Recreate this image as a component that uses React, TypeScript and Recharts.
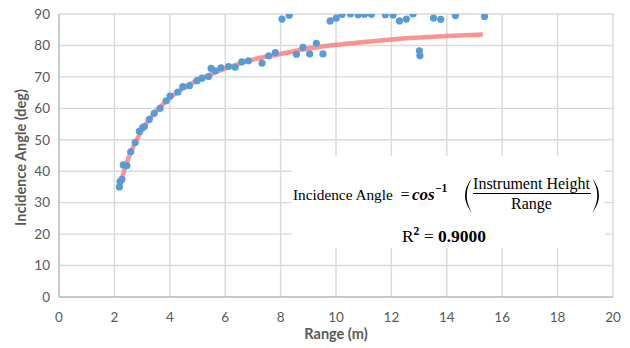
import React from 'react';
import { ComposedChart, Scatter, Line, XAxis, YAxis, CartesianGrid } from 'recharts';

// Measured points: range (m) and incidence angle (deg)
const rangeValues = [
  2.18, 2.2, 2.27, 2.32, 2.45, 2.59, 2.75, 2.9, 3.02, 3.08, 3.26, 3.44, 3.65, 3.87, 4.01, 4.29,
  4.47, 4.71, 4.98, 5.16, 5.4, 5.49, 5.64, 5.85, 6.12, 6.36, 6.6, 6.84, 7.33, 7.57, 7.81, 8.05,
  8.31, 8.57, 8.81, 9.05, 9.29, 9.53, 9.79, 10.01, 10.22, 10.52, 10.8, 11.03, 11.28, 11.78, 12.06,
  12.29, 12.54, 12.78, 13.01, 13.03, 13.52, 13.78, 14.31, 15.36,
];
const angleValues = [
  35.0, 36.7, 37.4, 42.0, 41.8, 46.2, 49.1, 52.7, 53.9, 54.2, 56.5, 58.4, 60.0, 62.4, 63.9, 65.2,
  66.9, 67.2, 68.8, 69.6, 70.1, 72.7, 71.9, 72.9, 73.3, 73.1, 74.8, 75.1, 74.4, 76.7, 77.7, 88.4,
  89.6, 77.2, 79.4, 77.3, 80.7, 77.3, 87.8, 88.7, 89.9, 90.0, 89.8, 89.9, 89.9, 89.8, 89.7,
  87.8, 88.4, 90.0, 78.3, 76.7, 88.7, 88.3, 89.5, 89.2,
];

// Trend curve
const trendRange = [2.2, 2.4, 2.6, 2.8, 3.0, 3.3, 3.6, 4.0, 4.5, 5.0, 5.5, 6.0, 7.0, 8.0, 9.0, 10.0, 11.0, 12.0, 13.0, 14.0, 15.3];
const trendAngle = [35.5, 41.5, 46.2, 49.9, 53.1, 57.0, 60.0, 63.3, 66.4, 68.9, 70.9, 72.6, 75.5, 77.3, 79.0, 80.2, 81.1, 81.9, 82.5, 83.0, 83.5];

// Axis ticks
const xTicks = [0, 2, 4, 6, 8, 10, 12, 14, 16, 18, 20];
const yTicks = [0, 10, 20, 30, 40, 50, 60, 70, 80, 90];
const xMinorTicks = [
  0.4, 0.8, 1.2, 1.6, 2.4, 2.8, 3.2, 3.6, 4.4, 4.8, 5.2, 5.6, 6.4, 6.8, 7.2, 7.6, 8.4, 8.8, 9.2, 9.6,
  10.4, 10.8, 11.2, 11.6, 12.4, 12.8, 13.2, 13.6, 14.4, 14.8, 15.2, 15.6, 16.4, 16.8, 17.2, 17.6,
  18.4, 18.8, 19.2, 19.6,
];
const yMinorTicks = [
  2, 4, 6, 8, 12, 14, 16, 18, 22, 24, 26, 28, 32, 34, 36, 38, 42, 44, 46, 48, 52, 54, 56, 58, 62, 64,
  66, 68, 72, 74, 76, 78, 82, 84, 86, 88,
];

const xLabel = 'Range (m)';
const yLabel = 'Incidence Angle (deg)';

const points = rangeValues.map((x, i) => ({ x, y: angleValues[i] }));
const trend = trendRange.map((x, i) => ({ x, y: trendAngle[i] }));

const GRID = '#d9d9d9';
const AXIS = '#bfbfbf';
const TICK_TEXT = '#595959';
const SANS = 'Lato, "Open Sans", sans-serif';
const SERIF = '"Liberation Serif", "DejaVu Serif", serif';

const Dot = (props: any) => {
  const { cx, cy } = props;
  if (cx == null || cy == null) return <g />;
  return <circle cx={cx} cy={cy} r={3.6} fill="#5B9BD5" />;
};

const XTitle = (props: any) => {
  const vb = props.viewBox || {};
  return (
    <text x={vb.x + vb.width / 2} y={vb.y + 42} textAnchor="middle" fill={TICK_TEXT}
      fontFamily={SANS} fontWeight={700} fontSize={14.5}>{xLabel}</text>
  );
};

const YTitle = (props: any) => {
  const vb = props.viewBox || {};
  const cx = 20;
  const cy = vb.y + vb.height / 2 + 2;
  return (
    <text x={cx} y={cy} transform={`rotate(-90 ${cx} ${cy})`} textAnchor="middle" dominantBaseline="central"
      fill={TICK_TEXT} fontFamily={SANS} fontWeight={700} fontSize={14.5}>{yLabel}</text>
  );
};

const NoLabel = () => <g />;

export default function App() {
  return (
    <div style={{ position: 'absolute', left: 0, top: 0, width: 630, height: 348, background: '#fff' }}>
      <ComposedChart width={630} height={348} margin={{ top: 14, right: 17, bottom: 0, left: 0 }}>
        <CartesianGrid stroke={GRID} strokeWidth={1.4} />
        <XAxis
          type="number"
          dataKey="x"
          domain={[0, 20]}
          ticks={xTicks}
          allowDataOverflow
          height={51}
          axisLine={{ stroke: AXIS, strokeWidth: 1.4 }}
          tickLine={false}
          tickSize={0}
          tickMargin={15}
          tick={{ fill: TICK_TEXT, fontSize: 13.5, fontFamily: SANS }}
          label={<XTitle />}
        />
        <YAxis
          type="number"
          dataKey="y"
          domain={[0, 90]}
          ticks={yTicks}
          allowDataOverflow
          width={59}
          axisLine={{ stroke: AXIS, strokeWidth: 1.4 }}
          tickLine={false}
          tickSize={0}
          tickMargin={9}
          tick={{ fill: TICK_TEXT, fontSize: 13.5, fontFamily: SANS }}
          label={<YTitle />}
        />
        <XAxis
          xAxisId="minor"
          type="number"
          dataKey="x"
          domain={[0, 20]}
          ticks={xMinorTicks}
          allowDataOverflow
          mirror
          height={0}
          axisLine={false}
          tickLine={{ stroke: AXIS, strokeWidth: 1 }}
          tickSize={4}
          tick={NoLabel}
        />
        <YAxis
          yAxisId="minor"
          type="number"
          dataKey="y"
          domain={[0, 90]}
          ticks={yMinorTicks}
          allowDataOverflow
          mirror
          width={0}
          axisLine={false}
          tickLine={{ stroke: AXIS, strokeWidth: 1 }}
          tickSize={4}
          tick={NoLabel}
        />
        <Line
          data={trend}
          dataKey="y"
          type="monotone"
          stroke="#ff8080"
          strokeOpacity={0.85}
          strokeWidth={4.5}
          dot={false}
          activeDot={false}
          isAnimationActive={false}
        />
        <Scatter data={points} dataKey="y" shape={Dot} isAnimationActive={false} />
      </ComposedChart>
      <svg width={630} height={348} style={{ position: 'absolute', left: 0, top: 0, pointerEvents: 'none' }}>
        <rect x={292} y={156} width={313} height={92} fill="#fff" />
        <text x={293} y={200} fontFamily={SERIF} fontSize={15.3} fill="#000">Incidence Angle</text>
        <text x={405} y={200} textAnchor="middle" fontFamily={SERIF} fontSize={16} fill="#000">=</text>
        <text x={412} y={200} fontFamily={SERIF} fontSize={17} fontWeight={700} fontStyle="italic" fill="#000">cos</text>
        <text x={435} y={192} fontFamily={SERIF} fontSize={11.5} fontWeight={700} fill="#000">−1</text>
        <path d="M 472 178 Q 458 195.5 472 213 Q 461.5 195.5 472 178 Z" fill="#000" />
        <text x={531.5} y={189} textAnchor="middle" fontFamily={SERIF} fontSize={16} fill="#000">Instrument Height</text>
        <line x1={473} y1={193.5} x2={591} y2={193.5} stroke="#000" strokeWidth={1} />
        <text x={531.5} y={209} textAnchor="middle" fontFamily={SERIF} fontSize={16} fill="#000">Range</text>
        <path d="M 592 178 Q 606 195.5 592 213 Q 602.5 195.5 592 178 Z" fill="#000" />
        <text x={444} y={242} textAnchor="middle" fontFamily={SERIF} fontSize={17.5} fill="#000">
          R
          <tspan dy={-7} fontSize={11.5} fontWeight={700}>2</tspan>
          <tspan dy={7}>{' = '}</tspan>
          <tspan fontWeight={700}>0.9000</tspan>
        </text>
      </svg>
    </div>
  );
}
